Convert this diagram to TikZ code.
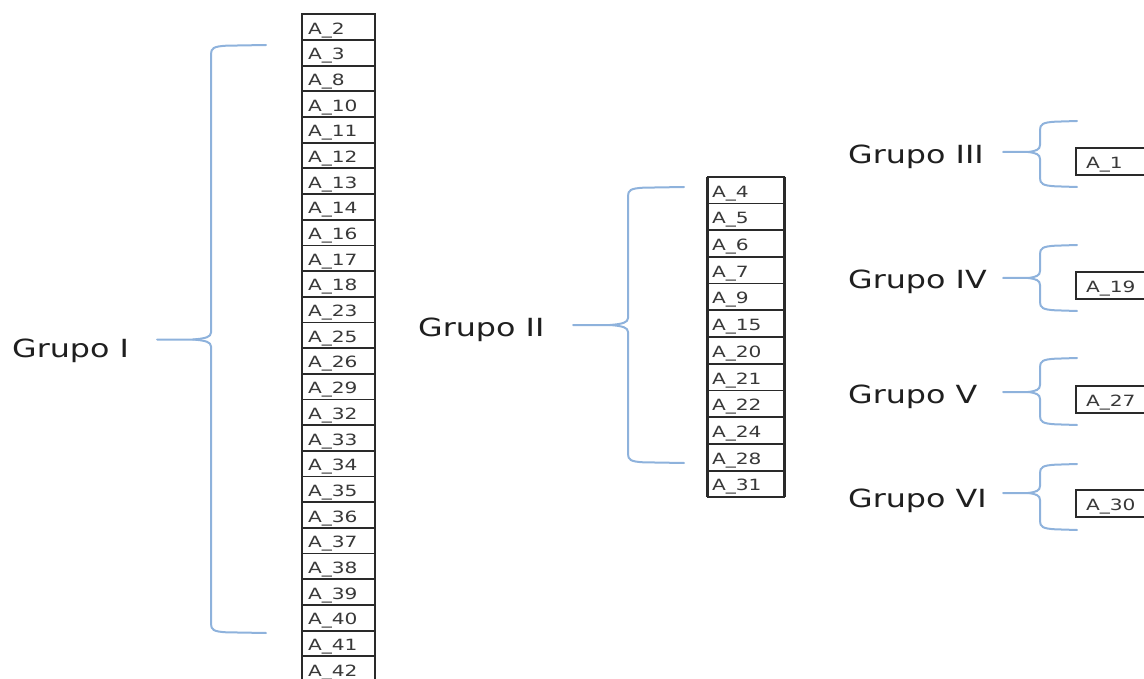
\documentclass[tikz,border=0pt]{standalone}
\usepackage{graphicx}
\usepackage{fontspec}
\setmainfont{DejaVu Sans}
\definecolor{boxcol}{HTML}{2A2A2A}
\definecolor{bracecol}{HTML}{8EB2DC}
\newcommand\sx[1]{\scalebox{1.3}[1]{#1}}
\newcommand\gx[1]{\scalebox{1.27}[1]{#1}}
\tikzset{
  cell/.style={draw=boxcol, line width=1.8pt, rectangle, anchor=north west,
    inner ysep=0pt, outer sep=0pt, align=left,
    font=\fontsize{15.5}{15.5}\selectfont, text height=14pt, text depth=0pt, text=black!78},
  grp/.style={inner sep=0pt, anchor=base west, font=\fontsize{25}{25}\selectfont, text=black!88},
  bracestyle/.style={draw=bracecol, line width=2pt, line cap=round, line join=round},
}
% xv, ytop, ybot, ytip, xleft, xend, tipw
\newcommand\mybrace[7]{%
  \draw[bracestyle] (#6,#2) -- ({#1+15},{#2+0.7}) .. controls ({#1+3},{#2+1.5}) and (#1,{#2+3}) .. (#1,{#2+9})
     -- (#1,{#4-7}) .. controls (#1,{#4-2.5}) and ({#1-#7*0.3},{#4-1}) .. ({#1-#7},#4) -- (#5,#4);
  \draw[bracestyle] ({#1-#7},#4) .. controls ({#1-#7*0.3},{#4+1}) and (#1,{#4+2.5}) .. (#1,{#4+7})
     -- (#1,{#3-9}) .. controls (#1,{#3-3}) and ({#1+3},{#3-1.5}) .. ({#1+15},{#3-0.7}) -- (#6,#3);
}
\begin{document}
\begin{tikzpicture}[x=1pt,y=-1pt]
\useasboundingbox (0,0) rectangle (1144,679);
\clip (0,0) rectangle (1144,679);
% column 1
\foreach \n [count=\i from 0] in {2,3,8,10,11,12,13,14,16,17,18,23,25,26,29,32,33,34,35,36,37,38,39,40,41,42}
  \node[cell, minimum width=73pt, minimum height=25.68pt, text width=61pt, inner xsep=6pt] (a\n) at (302,{14.3+\i*25.68}) {\sx{A\_\n}};
\draw[boxcol, line width=2.6pt] (a2.north west) -- (a42.south west);
\draw[boxcol, line width=2.6pt] (a2.north east) -- (a42.south east);
% column 2
\foreach \n [count=\i from 0] in {4,5,6,7,9,15,20,21,22,24,28,31}
  \node[cell, minimum width=77pt, minimum height=26.72pt, text width=68pt, inner xsep=4.5pt] (b\n) at (707.5,{176.7+\i*26.72}) {\sx{A\_\n}};
\draw[boxcol, line width=2.6pt] (b4.north west) -- (b31.south west);
\draw[boxcol, line width=2.6pt] (b4.north east) -- (b31.south east);
% right boxes
\node[cell, minimum width=100pt, minimum height=27pt, text width=80pt, inner xsep=10pt] (c1) at (1076,148) {\sx{A\_1}};
\node[cell, minimum width=100pt, minimum height=27pt, text width=80pt, inner xsep=10pt] (c19) at (1076,272) {\sx{A\_19}};
\node[cell, minimum width=100pt, minimum height=27pt, text width=80pt, inner xsep=10pt] (c27) at (1076,386) {\sx{A\_27}};
\node[cell, minimum width=100pt, minimum height=27pt, text width=80pt, inner xsep=10pt] (c30) at (1076,490) {\sx{A\_30}};
\foreach \c in {c1,c19,c27,c30}
  \draw[boxcol, line width=2.6pt] (\c.north west) -- (\c.south west);
% labels
\node[grp] (g1) at (12,357) {\gx{Grupo I}};
\node[grp] (g2) at (418,336) {\gx{Grupo II}};
\node[grp] (g3) at (848,164) {\gx{Grupo III}};
\node[grp] (g4) at (848,289) {\gx{Grupo IV}};
\node[grp] (g5) at (848,403) {\gx{Grupo V}};
\node[grp] (g6) at (848,507) {\gx{Grupo VI}};
% braces
\mybrace{211}{45}{633}{339.5}{157}{266}{18}
\mybrace{628}{187}{463}{325}{573}{684}{18}
\mybrace{1040}{121}{187}{152}{1003}{1077}{12}
\mybrace{1040}{245}{311}{278}{1003}{1077}{12}
\mybrace{1040}{358}{425}{392}{1003}{1077}{12}
\mybrace{1040}{464}{530}{493}{1003}{1077}{12}
\end{tikzpicture}
\end{document}
